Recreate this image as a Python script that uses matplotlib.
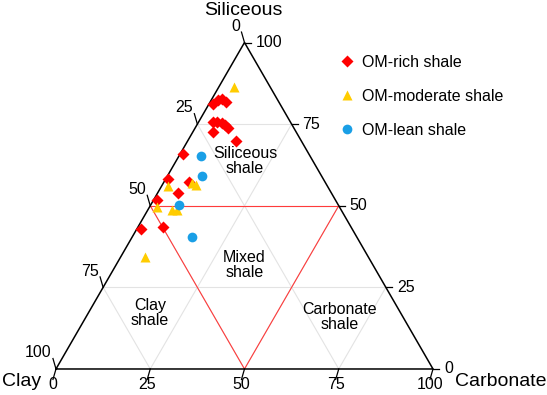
import numpy as np
import matplotlib
matplotlib.use("Agg")
import matplotlib.pyplot as plt

plt.rcParams['font.family'] = ['Liberation Sans', 'DejaVu Sans']

# composition (%): siliceous, carbonate, clay
rich_siliceous = [81.2, 82.4, 82.7, 81.8, 75.7, 75.7, 75.3, 74.7, 73.8, 72.7, 69.8, 65.9, 58.1, 57.4, 54.0, 51.8, 42.8, 43.6]
rich_carbonate = [1.1, 1.8, 2.7, 4.2, 3.9, 4.9, 6.3, 7.6, 8.6, 5.4, 12.8, 0.8, 0.7, 6.6, 5.4, 1.0, 1.1, 6.7]
rich_clay = [17.7, 15.8, 14.6, 14.0, 20.4, 19.4, 18.4, 17.7, 17.6, 21.9, 17.4, 33.3, 41.2, 36.0, 40.6, 47.2, 56.1, 49.7]

moderate_siliceous = [86.5, 56.2, 56.9, 56.4, 49.6, 48.7, 48.7, 34.2]
moderate_carbonate = [4.1, 1.5, 7.6, 8.9, 2.1, 6.3, 7.7, 6.5]
moderate_clay = [9.4, 42.3, 35.5, 34.7, 48.3, 45.0, 43.6, 59.3]

lean_siliceous = [65.3, 59.2, 50.1, 40.5]
lean_carbonate = [5.7, 9.2, 7.6, 15.7]
lean_clay = [29.0, 31.6, 42.3, 43.8]

tick_values = [0, 25, 50, 75, 100]
region_names = ["Siliceous\nshale", "Mixed\nshale", "Clay\nshale", "Carbonate\nshale"]
# region label centres as (siliceous, carbonate)
region_centres = [(63.7, 18.3), (31.9, 34.0), (17.2, 16.3), (15.9, 67.2)]

H = np.sqrt(3) / 2


def to_xy(sil, carb):
    sil = np.asarray(sil, dtype=float) / 100.0
    carb = np.asarray(carb, dtype=float) / 100.0
    return carb + sil / 2, sil * H


fig = plt.figure(figsize=(5.47, 3.95), dpi=100)
ax = fig.add_axes([0, 0, 1, 1])
ax.set_xlim(-0.1485, 1.3024)
ax.set_ylim(-0.0690, 0.9788)
ax.axis('off')

# light grid at 25 % steps
grid_kw = dict(color='#e3e3e3', lw=0.8, zorder=1)
for v in [25, 50, 75]:
    # constant siliceous
    x, y = to_xy([v, v], [0, 100 - v])
    ax.plot(x, y, **grid_kw)
    # constant carbonate
    x, y = to_xy([0, 100 - v], [v, v])
    ax.plot(x, y, **grid_kw)
    # constant clay
    x, y = to_xy([100 - v, 0], [0, 100 - v])
    ax.plot(x, y, **grid_kw)

# red classification triangle (50 % lines)
red_kw = dict(color='#ff3b3b', lw=0.8, zorder=2)
x, y = to_xy([50, 50], [0, 50])
ax.plot(x, y, **red_kw)
x, y = to_xy([50, 0], [0, 50])
ax.plot(x, y, **red_kw)
x, y = to_xy([50, 0], [50, 50])
ax.plot(x, y, **red_kw)

# outer triangle
x, y = to_xy([0, 100, 0, 0], [0, 0, 100, 0])
ax.plot(x, y, color='black', lw=1.1, zorder=3, solid_joinstyle='miter')

# ticks and tick labels
tl = 0.016
fs_tick = 11.5
for v in tick_values:
    # bottom: carbonate
    x0, y0 = to_xy(0, v)
    ax.plot([x0, x0 - tl * 0.5], [y0, y0 - tl * H * 2], color='black', lw=0.9)
    ax.text(x0 - 0.008, y0 - 0.040, str(v), ha='center', va='center', fontsize=fs_tick)
    # right: siliceous
    x0, y0 = to_xy(v, 100 - v)
    ax.plot([x0, x0 + tl], [y0, y0], color='black', lw=0.9)
    ax.text(x0 + 0.029, y0, str(v), ha='left', va='center', fontsize=fs_tick)
    # left: clay
    x0, y0 = to_xy(100 - v, 0)
    ax.plot([x0, x0 - tl * 0.5], [y0, y0 + tl * H * 2], color='black', lw=0.9)
    ax.text(x0 - 0.011, y0 + 0.043, str(v), ha='right', va='center', fontsize=fs_tick)

# axis titles
ax.text(0.496, 0.950, "Siliceous", ha='center', va='center', fontsize=14)
ax.text(-0.090, -0.032, "Clay", ha='center', va='center', fontsize=14)
ax.text(1.180, -0.032, "Carbonate", ha='center', va='center', fontsize=14)

# region names
for name, (s, c) in zip(region_names, region_centres):
    x, y = to_xy(s, c)
    ax.text(x, y, name, ha='center', va='center', fontsize=11.5,
            linespacing=1.0, color='black', zorder=4)

# samples
x, y = to_xy(rich_siliceous, rich_carbonate)
ax.plot(x, y, 'D', ms=6.5, color='#ff0000', mec='none', ls='none',
        label='OM-rich shale', zorder=5)
x, y = to_xy(moderate_siliceous, moderate_carbonate)
ax.plot(x, y, '^', ms=7.5, color='#ffcc00', mec='none', ls='none',
        label='OM-moderate shale', zorder=5)
x, y = to_xy(lean_siliceous, lean_carbonate)
ax.plot(x, y, 'o', ms=7, color='#1a9fe6', mec='none', ls='none',
        label='OM-lean shale', zorder=5)

ax.legend(loc='upper left', bbox_to_anchor=(0.62, 0.862),
          bbox_transform=fig.transFigure, frameon=False, fontsize=11.5,
          handlelength=1.0, handletextpad=0.4, labelspacing=1.2,
          borderpad=0, borderaxespad=0)

fig.savefig('out.png', dpi=100)
